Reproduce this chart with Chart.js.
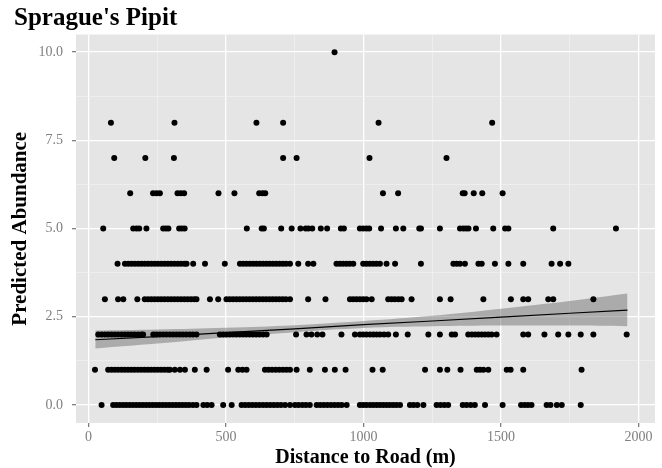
<!DOCTYPE html>
<html>
<head>
<meta charset="utf-8">
<script src="https://cdn.jsdelivr.net/npm/chart.js@4.4.1/dist/chart.umd.min.js"></script>
<style>
  html, body { margin: 0; padding: 0; background: #fff; }
  #box { width: 662px; height: 468px; }
</style>
</head>
<body>
<div id="box"><canvas id="pipitChart"></canvas></div>
<script>
//---------------------------------
//Start data: distance to road (m) of each point, one list per abundance value
const dist0 = [48, 90, 102, 114, 126, 138, 150, 162, 174, 186, 198, 210, 222, 234, 246, 258, 270, 282, 294, 306, 318, 330, 342, 354, 366, 380, 393, 418, 432, 448, 490, 521, 557, 570, 583, 596, 609, 622, 635, 648, 661, 674, 687, 700, 715, 733, 751, 764, 778, 791, 805, 830, 843, 856, 869, 882, 895, 908, 921, 939, 987, 999, 1011, 1024, 1036, 1048, 1060, 1072, 1084, 1096, 1108, 1120, 1133, 1169, 1182, 1196, 1218, 1266, 1280, 1294, 1308, 1361, 1375, 1390, 1405, 1442, 1506, 1573, 1586, 1598, 1611, 1666, 1680, 1703, 1721, 1790];
const dist1 = [24, 72, 84, 96, 108, 120, 132, 144, 156, 168, 180, 192, 204, 216, 228, 240, 252, 264, 276, 288, 296, 314, 333, 351, 387, 430, 508, 545, 560, 575, 642, 655, 668, 681, 694, 707, 720, 733, 757, 805, 860, 896, 935, 1033, 1070, 1224, 1278, 1305, 1353, 1412, 1424, 1436, 1454, 1521, 1535, 1581, 1793];
const dist2 = [36, 48, 60, 72, 84, 96, 108, 120, 132, 144, 156, 168, 180, 192, 199, 236, 248, 260, 272, 284, 296, 308, 320, 332, 344, 356, 368, 380, 393, 478, 490, 502, 514, 526, 538, 550, 562, 574, 586, 598, 610, 622, 635, 648, 755, 793, 811, 832, 851, 920, 969, 987, 999, 1011, 1024, 1036, 1048, 1060, 1075, 1090, 1118, 1161, 1236, 1278, 1321, 1333, 1381, 1394, 1406, 1418, 1430, 1442, 1454, 1466, 1484, 1581, 1599, 1658, 1708, 1745, 1790, 1836, 1957];
const dist3 = [60, 108, 127, 178, 205, 217, 229, 241, 253, 265, 277, 289, 301, 313, 325, 337, 349, 361, 373, 385, 393, 442, 472, 502, 514, 526, 538, 550, 562, 574, 586, 598, 610, 622, 634, 646, 658, 670, 682, 694, 706, 718, 733, 799, 862, 951, 963, 975, 987, 999, 1011, 1030, 1090, 1102, 1114, 1127, 1139, 1175, 1278, 1317, 1436, 1536, 1581, 1599, 1672, 1690, 1836];
const dist4 = [106, 133, 145, 157, 169, 181, 193, 205, 217, 229, 241, 253, 265, 277, 289, 301, 313, 325, 337, 349, 357, 381, 424, 496, 551, 563, 575, 587, 599, 611, 623, 635, 647, 659, 671, 683, 695, 707, 719, 733, 763, 799, 818, 902, 914, 926, 938, 950, 963, 999, 1011, 1023, 1035, 1047, 1060, 1084, 1115, 1209, 1327, 1339, 1351, 1369, 1418, 1430, 1478, 1527, 1581, 1684, 1715, 1745];
const dist5 = [54, 163, 175, 185, 211, 272, 282, 291, 330, 340, 350, 576, 630, 638, 701, 739, 771, 790, 800, 814, 845, 868, 918, 929, 987, 999, 1011, 1021, 1064, 1118, 1145, 1203, 1209, 1278, 1351, 1363, 1373, 1382, 1409, 1472, 1515, 1527, 1690, 1918];
const dist6 = [152, 235, 248, 260, 324, 336, 348, 473, 531, 621, 633, 643, 1071, 1126, 1361, 1368, 1401, 1432, 1506];
const dist7 = [94, 207, 311, 708, 757, 1022, 1302];
const dist8 = [82, 313, 611, 708, 1055, 1468];
const dist10 = [895];

const abundance = [0, 1, 2, 3, 4, 5, 6, 7, 8, 10];
const distRows = [dist0, dist1, dist2, dist3, dist4, dist5, dist6, dist7, dist8, dist10];

//fitted line and its confidence band
const fitX = [25, 250, 500, 750, 1000, 1250, 1500, 1750, 1960];
const fitY = [1.85, 1.94, 2.05, 2.16, 2.28, 2.38, 2.49, 2.60, 2.69];
const fitLow = [1.60, 1.74, 1.91, 2.06, 2.18, 2.23, 2.25, 2.25, 2.23];
const fitHigh = [2.11, 2.14, 2.19, 2.26, 2.38, 2.53, 2.73, 2.95, 3.16];

//grid / tick positions
const xTicks = [0, 250, 500, 750, 1000, 1250, 1500, 1750, 2000];
const yTicks = [0, 1.25, 2.5, 3.75, 5, 6.25, 7.5, 8.75, 10];
//End data
//---------------------------------

let points = [];
distRows.forEach((row, i) => {
    row.forEach((d) => points.push({ x: d, y: abundance[i] }));
});

const toXY = (ys) => fitX.map((x, i) => ({ x: x, y: ys[i] }));

const isMajorX = (v) => v % 500 === 0;
const isMajorY = (v) => v % 2.5 === 0;

const serif = "'Liberation Serif', 'DejaVu Serif', serif";

//panel background like ggplot's grey theme
const panelBg = {
    id: 'panelBg',
    beforeDraw(chart) {
        const { ctx, chartArea } = chart;
        ctx.save();
        ctx.fillStyle = '#e5e5e5';
        ctx.fillRect(chartArea.left, chartArea.top, chartArea.width, chartArea.height);
        ctx.restore();
    }
};

const ctx = document.getElementById('pipitChart');

new Chart(ctx, {
    type: 'scatter',
    data: {
        datasets: [
            {
                type: 'line',
                data: toXY(fitY),
                borderColor: '#000',
                borderWidth: 1.2,
                pointRadius: 0,
                fill: false
            },
            {
                data: points,
                pointRadius: 3,
                pointBackgroundColor: '#000',
                pointBorderWidth: 0
            },
            {
                type: 'line',
                data: toXY(fitHigh),
                borderWidth: 0,
                borderColor: 'rgba(0,0,0,0)',
                pointRadius: 0,
                tension: 0.4,
                fill: '+1',
                backgroundColor: 'rgba(100,100,100,0.45)'
            },
            {
                type: 'line',
                data: toXY(fitLow),
                borderWidth: 0,
                borderColor: 'rgba(0,0,0,0)',
                pointRadius: 0,
                tension: 0.4,
                fill: false
            }
        ]
    },
    options: {
        responsive: true,
        maintainAspectRatio: false,
        animation: false,
        layout: { padding: { left: 14, right: 7, top: 0, bottom: 0 } },
        plugins: {
            legend: { display: false },
            tooltip: { enabled: false },
            title: {
                display: true,
                text: "Sprague's Pipit",
                align: 'start',
                color: '#000',
                font: { family: serif, size: 25, weight: 'bold', lineHeight: 1.1 },
                padding: { top: 5, bottom: 2 }
            }
        },
        scales: {
            x: {
                type: 'linear',
                min: -45,
                max: 2060,
                afterBuildTicks: (s) => { s.ticks = xTicks.map((v) => ({ value: v })); },
                afterFit: (s) => { s.height = 45; },
                border: { display: false },
                grid: {
                    color: (c) => isMajorX(c.tick.value) ? '#ffffff' : '#f2f2f2',
                    lineWidth: (c) => isMajorX(c.tick.value) ? 1.3 : 0.7,
                    tickColor: (c) => isMajorX(c.tick.value) ? '#7f7f7f' : 'rgba(0,0,0,0)',
                    tickLength: 4
                },
                ticks: {
                    autoSkip: false,
                    maxRotation: 0,
                    padding: 2,
                    color: '#7f7f7f',
                    font: { family: serif, size: 14 },
                    callback: (v) => isMajorX(v) ? String(v) : ''
                },
                title: {
                    display: true,
                    text: 'Distance to Road (m)',
                    color: '#000',
                    font: { family: serif, size: 20, weight: 'bold', lineHeight: 1 },
                    padding: { top: 0, bottom: 0 }
                }
            },
            y: {
                type: 'linear',
                min: -0.51,
                max: 10.5,
                afterBuildTicks: (s) => { s.ticks = yTicks.map((v) => ({ value: v })); },
                afterFit: (s) => { s.width = 62; },
                border: { display: false },
                grid: {
                    color: (c) => isMajorY(c.tick.value) ? '#ffffff' : '#f2f2f2',
                    lineWidth: (c) => isMajorY(c.tick.value) ? 1.3 : 0.7,
                    tickColor: (c) => isMajorY(c.tick.value) ? '#7f7f7f' : 'rgba(0,0,0,0)',
                    tickLength: 4
                },
                ticks: {
                    autoSkip: false,
                    padding: 9,
                    color: '#7f7f7f',
                    font: { family: serif, size: 14 },
                    callback: (v) => isMajorY(v) ? v.toFixed(1) : ''
                },
                title: {
                    display: true,
                    text: 'Predicted Abundance',
                    color: '#000',
                    font: { family: serif, size: 21, weight: 'bold', lineHeight: 1 },
                    padding: { top: -4, bottom: 0 }
                }
            }
        }
    },
    plugins: [panelBg]
});
</script>
</body>
</html>
